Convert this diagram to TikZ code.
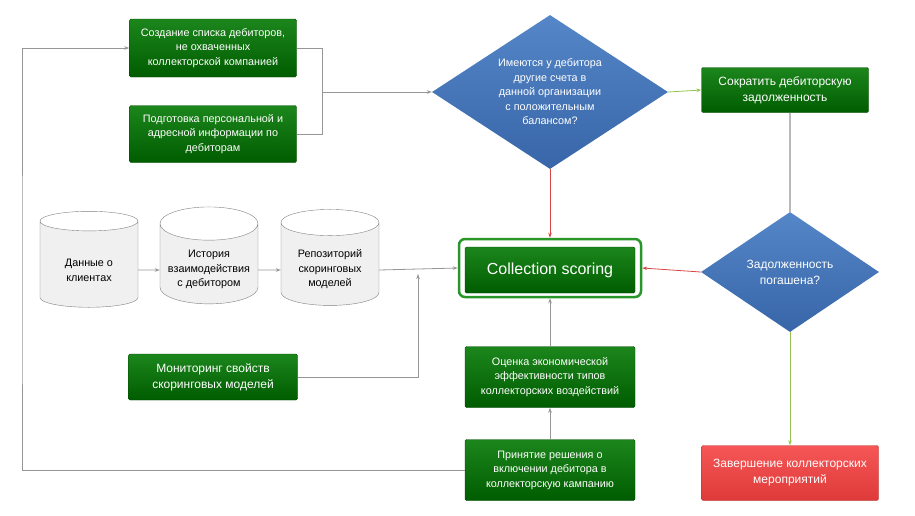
\documentclass[tikz,border=0pt]{standalone}
\usepackage{fontspec}
\setmainfont{Liberation Sans}
\usetikzlibrary{shapes.geometric,arrows.meta}
\definecolor{gtop}{RGB}{28,134,28}
\definecolor{gbot}{RGB}{0,92,0}
\definecolor{btop}{RGB}{84,134,200}
\definecolor{bbot}{RGB}{56,102,168}
\definecolor{rtop}{RGB}{246,86,86}
\definecolor{rbot}{RGB}{222,58,58}
\definecolor{lgray}{RGB}{150,150,150}
\definecolor{lred}{RGB}{214,70,70}
\definecolor{lgreen}{RGB}{150,196,80}
\definecolor{frame}{RGB}{40,150,40}

\begin{document}
\begin{tikzpicture}[x=1pt,y=-1pt,
    gbox/.style={draw=gbot!80!black,top color=gtop,bottom color=gbot,text=white,
      align=center,rounded corners=1.5pt,inner sep=1pt},
    small/.style={font=\fontsize{10.8}{14.5}\selectfont},
    large/.style={font=\fontsize{12}{16}\selectfont},
    decide/.style={diamond,top color=btop,bottom color=bbot,text=white,align=center,
      inner sep=0pt,aspect=1.5},
    base/.style={cylinder,shape border rotate=90,aspect=0.4,draw=gray,
      cylinder uses custom fill,cylinder body fill=gray!12,cylinder end fill=white,
      minimum width=98,minimum height=96,align=center,inner sep=0.5pt,
      font=\fontsize{10.8}{14.5}\selectfont},
    line/.style={draw=lgray,line width=0.8pt,-{Stealth[length=5pt,width=3.5pt]}}]
  \useasboundingbox (0,0) rectangle (915,515);

  % left column
  \node[gbox,small,minimum width=167,minimum height=58] (list) at (213,48)
    {Создание списка дебиторов,\\не охваченных\\коллекторской компанией};
  \node[gbox,small,minimum width=167,minimum height=57] (prep) at (213,134)
    {Подготовка персональной и\\адресной информации по\\дебиторам};

  % databases
  \node[base,text height=33pt] (db1) at (89,265) {Данные о\\клиентах};
  \node[base,text height=46pt] (db2) at (209,265) {История\\взаимодействия\\с дебитором};
  \node[base,text height=46pt] (db3) at (330,265) {Репозиторий\\скоринговых\\моделей};

  \node[gbox,large,minimum width=169,minimum height=46] (mon) at (213,377)
    {Мониторинг свойств\\скоринговых моделей};

  % centre
  \node[decide,small,minimum width=236,minimum height=154] (acc) at (550,92)
    {Имеются у дебитора\\другие счета в\\данной организации\\с положительным\\балансом?};
  \node[draw=frame,line width=2.5pt,rounded corners=6pt,fill=white,
    minimum width=182,minimum height=58] (frm) at (550,268) {};
  \node[gbox,minimum width=170,minimum height=46,
    font=\fontsize{16}{18}\selectfont] (cs) at (550,270) {Collection scoring};
  \node[gbox,small,minimum width=170,minimum height=61] (eval) at (550,377)
    {Оценка экономической\\эффективности типов\\коллекторских воздействий};
  \node[gbox,small,minimum width=170,minimum height=61] (incl) at (550,470)
    {Принятие решения о\\включении дебитора в\\коллекторскую кампанию};

  % right column
  \node[gbox,large,minimum width=167,minimum height=45] (cut) at (785,90)
    {Сократить дебиторскую\\задолженность};
  \node[decide,large,minimum width=178,minimum height=120] (paid) at (790,272)
    {Задолженность\\погашена?};
  \node[draw=rbot!80!black,top color=rtop,bottom color=rbot,text=white,align=center,
    rounded corners=2pt,large,minimum width=177,minimum height=55] (end) at (790,473)
    {Завершение коллекторских\\мероприятий};

  % connectors
  \coordinate (j1) at (322,92);
  \coordinate (j2) at (418,274);
  \coordinate (j3) at (22,300);
  \draw[line,-] (list.east) -| (j1);
  \draw[line,-] (prep.east) -| (j1);
  \draw[line] (j1) -- (acc.west);
  \draw[line] ([yshift=-5pt]db1.east) -- ([yshift=-5pt]db2.west);
  \draw[line] ([yshift=-5pt]db2.east) -- ([yshift=-5pt]db3.west);
  \draw[line] ([yshift=-5pt]db3.east) -- (frm.west);
  \draw[line] (mon.east) -| (j2);
  \draw[line] (eval.north) -- (frm.south);
  \draw[line] (incl.north) -- (eval.south);
  \draw[line] (incl.west) -| (j3) |- (list.west);
  \draw[line,draw=lred] (acc.south) -- (frm.north);
  \draw[line,draw=lgreen] (acc.east) -- (cut.west);
  \draw[line,-,draw=gray!55,line width=1.3pt] (cut.south -| paid.north) -- (paid.north);
  \draw[line,draw=lred] (paid.west) -- (frm.east);
  \draw[line,draw=lgreen] (paid.south) -- (end.north);
\end{tikzpicture}
\end{document}
